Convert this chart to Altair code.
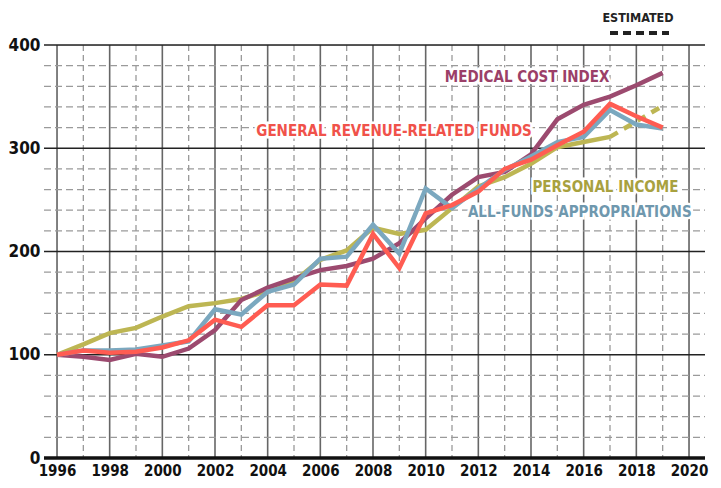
import altair as alt
import pandas as pd

# ---- data ----
years = list(range(1996, 2020))
medical_cost = [100, 98, 95, 101, 98, 106, 124, 153, 165, 174, 182, 186, 193, 208,
                232, 255, 272, 277, 294, 328, 342, 350, 361, 373]
general_revenue = [100, 104, 102, 103, 107, 114, 134, 127, 148, 148, 168, 167, 217, 184,
                   237, 245, 258, 280, 289, 303, 316, 343, 331, 320]
all_funds = [100, 104, 104, 105, 109, 113, 144, 139, 161, 168, 193, 195, 226, 198,
             261, 242, 261, 279, 292, 306, 311, 337, 323, 319]
personal_years = list(range(1996, 2018))
personal_income = [100, 110, 121, 126, 137, 147, 150, 154, 162, 171, 192, 201, 223, 217,
                   221, 242, 263, 272, 285, 301, 306, 311]
estimated_years = [2017, 2018, 2019]
personal_estimated = [311, 326, 341]

label_text = ["MEDICAL COST INDEX", "GENERAL REVENUE-RELATED FUNDS",
              "PERSONAL INCOME", "ALL-FUNDS APPROPRIATIONS"]
label_year = [2013.85, 2008.8, 2019.6, 2020.1]
label_value = [369, 317, 262, 238]
label_align = ["center", "center", "right", "right"]
label_color = ["#9b3f68", "#f0524a", "#a8a13f", "#6f98ae"]

x_ticks = list(range(1996, 2021, 2))
y_ticks = [0, 100, 200, 300, 400]

# ---- styling ----
FONT = "Liberation Sans Narrow, DejaVu Sans Condensed, Roboto, sans-serif"
W, H = 632, 413
C_MED, C_GEN, C_ALL, C_PER = "#9c4a6f", "#ff5c52", "#7ba8bf", "#bdb653"

x_scale = alt.Scale(domain=[1996, 2020], nice=False)
y_scale = alt.Scale(domain=[0, 400], nice=False)
x_axis = alt.Axis(values=x_ticks, format="d", labelFont=FONT, labelFontSize=15,
                  labelFontWeight="bold", labelColor="#111", labelPadding=5,
                  labelFlush=False, labelOverlap=False,
                  domain=False, ticks=False, grid=False, title=None)
y_axis = alt.Axis(values=y_ticks, labelFont=FONT, labelFontSize=17,
                  labelFontWeight="bold", labelColor="#111", labelPadding=17,
                  labelFlush=False, labelOverlap=False,
                  domain=False, ticks=False, grid=False, title=None)

def X(field):
    return alt.X(field, scale=x_scale, axis=x_axis, title=None)

def Y(field):
    return alt.Y(field, scale=y_scale, axis=y_axis, title=None)

def series(yrs, vals, name):
    return pd.DataFrame({"year": yrs, "value": vals, "series": name})

df_med = series(years, medical_cost, "Medical cost index")
df_gen = series(years, general_revenue, "General revenue-related funds")
df_all = series(years, all_funds, "All-funds appropriations")
df_per = series(personal_years, personal_income, "Personal income")
df_est = series(estimated_years, personal_estimated, "Personal income (estimated)")

minor_y = pd.DataFrame({"value": [v for v in range(20, 400, 20) if v % 100 != 0]})
major_y = pd.DataFrame({"value": [100, 200, 300, 400]})
zero_y = pd.DataFrame({"value": [0]})
even_x = pd.DataFrame({"year": list(range(1996, 2021, 2))})
odd_x = pd.DataFrame({"year": list(range(1997, 2020, 2))})

v_minor = alt.Chart(odd_x).mark_rule(color="#9a9a9a", strokeWidth=1.3, strokeDash=[6, 4]).encode(
    x=X("year:Q"), y=alt.value(0), y2=alt.value(H))
v_major = alt.Chart(even_x).mark_rule(color="#666666", strokeWidth=1.6).encode(
    x=X("year:Q"), y=alt.value(0), y2=alt.value(H))
h_minor = alt.Chart(minor_y).mark_rule(color="#9a9a9a", strokeWidth=1.3, strokeDash=[7, 4]).encode(
    y=Y("value:Q"), x=alt.value(-13), x2=alt.value(W + 16))
h_major = alt.Chart(major_y).mark_rule(color="#222222", strokeWidth=1.5).encode(
    y=Y("value:Q"), x=alt.value(-13), x2=alt.value(W + 16))
h_zero = alt.Chart(zero_y).mark_rule(color="#111111", strokeWidth=3.5).encode(
    y=Y("value:Q"), x=alt.value(-13), x2=alt.value(W + 16))

def line(df, color, dash=None):
    kw = dict(color=color, strokeWidth=4.5, strokeJoin="miter", strokeCap="butt")
    if dash:
        kw["strokeDash"] = dash
    return alt.Chart(df).mark_line(**kw).encode(x=X("year:Q"), y=Y("value:Q"))

lines = [
    line(df_per, C_PER),
    line(df_est, C_PER, dash=[9, 7]),
    line(df_med, C_MED),
    line(df_all, C_ALL),
    line(df_gen, C_GEN),
]

labels = pd.DataFrame({"text": label_text, "year": label_year, "value": label_value,
                       "align": label_align, "color": label_color})

LABEL_SIZE = 15

def label_layer(align):
    d = labels[labels["align"] == align]
    enc = dict(x=X("year:Q"), y=Y("value:Q"), text="text:N")
    halo = alt.Chart(d).mark_text(font=FONT, fontSize=LABEL_SIZE, fontWeight="bold", align=align,
                                  baseline="middle", stroke="white", strokeWidth=5,
                                  fill="white").encode(**enc)
    txt = alt.Chart(d).mark_text(font=FONT, fontSize=LABEL_SIZE, fontWeight="bold", align=align,
                                 baseline="middle").encode(
        color=alt.Color("color:N", scale=None), **enc)
    return [halo, txt]

legend_text = alt.Chart(pd.DataFrame({"t": ["ESTIMATED"]})).mark_text(
    font=FONT, fontSize=12.5, fontWeight="bold", color="#222", align="center",
    baseline="middle").encode(text="t:N", x=alt.value(581), y=alt.value(-27))
legend_line = alt.Chart(pd.DataFrame({"t": ["ESTIMATED"]})).mark_rule(
    color="#222", strokeWidth=4, strokeDash=[8, 5]).encode(
    x=alt.value(553), x2=alt.value(612), y=alt.value(-12))

chart = alt.layer(
    v_minor, v_major, h_minor, h_major, h_zero,
    *lines,
    *label_layer("center"), *label_layer("right"),
    legend_text, legend_line,
).properties(
    width=W, height=H,
    autosize=alt.AutoSizeParams(type="none"),
    padding={"left": 49, "top": 37, "right": 24, "bottom": 22},
).configure_view(stroke=None).configure(background="white")

chart.save("out.html", embed_options={"renderer": "svg", "actions": False})
